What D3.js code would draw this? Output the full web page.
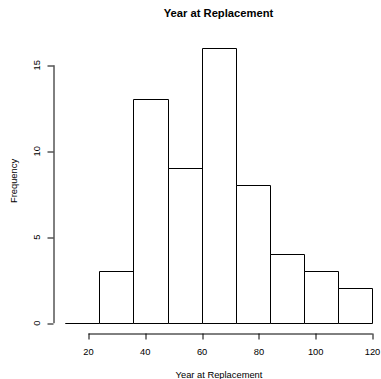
<!DOCTYPE html>
<html>
<head>
<meta charset="utf-8">
<script src="https://cdn.jsdelivr.net/npm/d3@7"></script>
<style>
  body { margin: 0; background: #fff; }
  svg { display: block; }
  text { font-family: 'Liberation Sans', Arial, Helvetica, sans-serif; fill: #000; }
</style>
</head>
<body>
<svg id="chart" width="381" height="379"></svg>
<script>
// histogram bins (breaks) and counts
const breaks = [12, 24, 36, 48, 60, 72, 84, 96, 108, 120];
const counts = [0, 3, 13, 9, 16, 8, 4, 3, 2];
const xTicks = [20, 40, 60, 80, 100, 120];
const yTicks = [0, 5, 10, 15];
const title = 'Year at Replacement';
const xLabel = 'Year at Replacement';
const yLabel = 'Frequency';

const svg = d3.select('#chart');

const x = d3.scaleLinear().domain([20, 120]).range([88, 372]);
const y = d3.scaleLinear().domain([0, 15]).range([322.7, 64.7]);

const crisp = v => Math.round(v) + 0.5;

// bars
const bins = counts.map((c, i) => ({x0: breaks[i], x1: breaks[i + 1], n: c}));
svg.append('g')
  .selectAll('path')
  .data(bins)
  .enter().append('path')
  .attr('fill', '#fff')
  .attr('stroke', '#000')
  .attr('stroke-width', 1)
  .attr('d', d => {
    const a = crisp(x(d.x0)), b = crisp(x(d.x1)), base = crisp(y(0)), top = crisp(y(d.n));
    return 'M' + a + ',' + base + 'V' + top + 'H' + b + 'V' + base + 'Z';
  });

// x axis
const gx = svg.append('g')
  .attr('transform', 'translate(0,' + crisp(333.3) + ')')
  .call(d3.axisBottom(x).tickValues(xTicks).tickSize(6).tickSizeOuter(0).tickFormat(d3.format('d')));
gx.selectAll('.tick line').attr('transform', d => 'translate(' + (crisp(x(d)) - x(d)) + ',0)');
gx.select('.domain').attr('stroke', '#000');
gx.selectAll('.tick text')
  .attr('y', 21.5).attr('dy', 0)
  .style('font-size', '9.33px')
  .style('font-family', "'Liberation Sans', Arial, sans-serif");

// y axis
const gy = svg.append('g')
  .attr('transform', 'translate(' + crisp(52.6) + ',0)')
  .call(d3.axisLeft(y).tickValues(yTicks).tickSize(6).tickSizeOuter(0));
gy.selectAll('.tick line').attr('transform', d => 'translate(0,' + (crisp(y(d)) - y(d)) + ')');
gy.select('.domain').attr('stroke', '#000');
gy.selectAll('.tick text')
  .attr('x', 0).attr('y', 0).attr('dy', 0)
  .attr('text-anchor', 'middle')
  .attr('transform', 'translate(-13.3,0) rotate(-90)')
  .style('font-size', '9.33px')
  .style('font-family', "'Liberation Sans', Arial, sans-serif");
gy.selectAll('text').attr('fill', '#000');
gx.selectAll('text').attr('fill', '#000');

// title and axis labels
svg.append('text')
  .attr('x', 218.5).attr('y', 17)
  .attr('text-anchor', 'middle')
  .style('font-size', '11.2px')
  .style('font-weight', 'bold')
  .text(title);

svg.append('text')
  .attr('x', 219).attr('y', 377.5)
  .attr('text-anchor', 'middle')
  .style('font-size', '9.33px')
  .text(xLabel);

svg.append('text')
  .attr('transform', 'translate(17,181) rotate(-90)')
  .attr('text-anchor', 'middle')
  .style('font-size', '9.33px')
  .text(yLabel);
</script>
</body>
</html>
